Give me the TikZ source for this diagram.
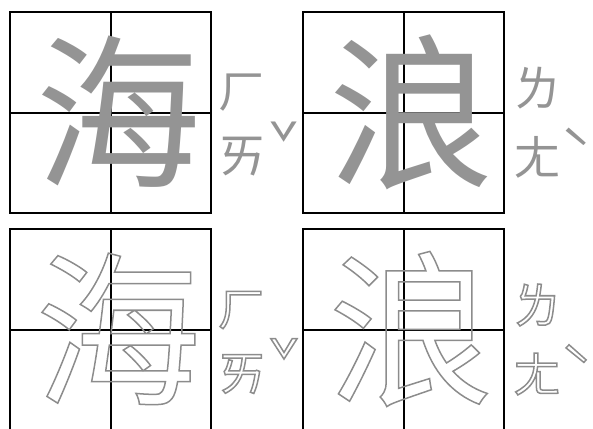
\documentclass[tikz,border=0pt]{standalone}
\usepackage{fontspec}
\newfontfamily\cjk{Noto Sans CJK TC}
\begin{document}
\begin{tikzpicture}[x=1pt,y=-1pt,
  gridline/.style={line width=2pt,black},
  bigfill/.style={inner sep=0pt,text=black!42,font=\cjk\fontsize{166}{166}\selectfont},
  bigline/.style={inner sep=0pt,text=black!45,font=\cjk\fontsize{166}{166}\selectfont},
  zhufill/.style={inner sep=0pt,text=black!42,font=\cjk\fontsize{48}{48}\selectfont},
  zhuline/.style={inner sep=0pt,text=black!45,font=\cjk\fontsize{48}{48}\selectfont},
  tonefill/.style={inner sep=0pt,text=black!42,font=\cjk\fontsize{52}{52}\selectfont},
  toneline/.style={inner sep=0pt,text=black!45,font=\cjk\fontsize{52}{52}\selectfont}]
\newcommand\outl[1]{\special{pdf:literal direct 1 Tr 1.5 w}#1}
\useasboundingbox (0,0) rectangle (593,428);
\begin{scope}
\clip (0,0) rectangle (593,428);
% boxes
\foreach \bx/\by [count=\i] in {10/12, 303/12, 10/229, 303/229} {
  \draw[gridline] (\bx,\by) rectangle ++(201,201);
  \draw[gridline] (\bx+101,\by) -- ++(0,201);
  \draw[gridline] (\bx,\by+101) -- ++(201,0);
}
% top row (filled)
\node[bigfill] (hai1) at (118,112) {海};
\node[zhufill] (h1) at (242,93) {ㄏ};
\node[zhufill] (ai1) at (242,157) {ㄞ};
\node[tonefill] (t31) at (284,143) {ˇ};
\node[bigfill] (lang1) at (411,112) {浪};
\node[zhufill] (l1) at (537,88) {ㄌ};
\node[zhufill] (ang1) at (537,157) {ㄤ};
\node[tonefill] (t41) at (576,149) {ˋ};
% bottom row (outlined)
\node[bigline] (hai2) at (118,329) {\outl{海}};
\node[zhuline] (h2) at (242,310) {\outl{ㄏ}};
\node[zhuline] (ai2) at (242,374) {\outl{ㄞ}};
\node[toneline] (t32) at (284,360) {\outl{ˇ}};
\node[bigline] (lang2) at (411,329) {\outl{浪}};
\node[zhuline] (l2) at (537,305) {\outl{ㄌ}};
\node[zhuline] (ang2) at (537,374) {\outl{ㄤ}};
\node[toneline] (t42) at (576,366) {\outl{ˋ}};
\end{scope}
\end{tikzpicture}
\end{document}
